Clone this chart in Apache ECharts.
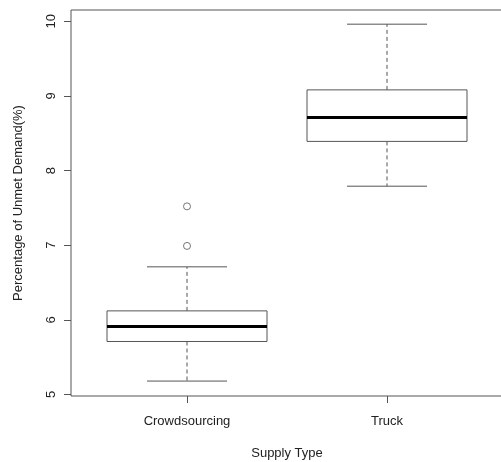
<!DOCTYPE html>
<html>
<head>
<meta charset="utf-8">
<script src="https://cdn.jsdelivr.net/npm/echarts@6/dist/echarts.min.js"></script>
<style>
  html, body { margin: 0; padding: 0; background: #fff; }
  #chart { width: 501px; height: 462px; }
</style>
</head>
<body>
<div id="chart"></div>
<script>
// boxplot of unmet demand by supply type
var categories = ['Crowdsourcing', 'Truck'];
var lowWhisker = [5.18, 7.79];
var q1 = [5.71, 8.39];
var median = [5.91, 8.71];
var q3 = [6.12, 9.08];
var highWhisker = [6.71, 9.96];
var outlierGroup = [1, 1];
var outlierValue = [6.99, 7.52];
var yTicks = [5, 6, 7, 8, 9, 10];

var lineColor = '#555';
var textColor = '#222';
var font = 'Liberation Sans, Arial, sans-serif';

var boxData = categories.map(function (c, i) {
    return [i + 1, lowWhisker[i], q1[i], median[i], q3[i], highWhisker[i]];
});
var outlierData = outlierValue.map(function (v, i) {
    return [outlierGroup[i], v];
});

function renderBox(params, api) {
    var x = api.value(0);
    var boxW = api.size([0.8, 0])[0];
    var capW = api.size([0.4, 0])[0];
    var pLow = api.coord([x, api.value(1)]);
    var pQ1 = api.coord([x, api.value(2)]);
    var pMed = api.coord([x, api.value(3)]);
    var pQ3 = api.coord([x, api.value(4)]);
    var pHigh = api.coord([x, api.value(5)]);
    var cx = pMed[0];
    var solid = { stroke: lineColor, lineWidth: 1, fill: null };
    var dashed = { stroke: lineColor, lineWidth: 1, lineDash: [4, 3], fill: null };
    return {
        type: 'group',
        children: [
            { type: 'line', shape: { x1: cx, y1: pQ3[1], x2: cx, y2: pHigh[1] }, style: dashed },
            { type: 'line', shape: { x1: cx, y1: pQ1[1], x2: cx, y2: pLow[1] }, style: dashed },
            { type: 'line', shape: { x1: cx - capW / 2, y1: pHigh[1], x2: cx + capW / 2, y2: pHigh[1] }, style: solid },
            { type: 'line', shape: { x1: cx - capW / 2, y1: pLow[1], x2: cx + capW / 2, y2: pLow[1] }, style: solid },
            { type: 'rect', shape: { x: cx - boxW / 2, y: pQ3[1], width: boxW, height: pQ1[1] - pQ3[1] },
              style: { stroke: lineColor, lineWidth: 1, fill: '#fff' } },
            { type: 'line', shape: { x1: cx - boxW / 2, y1: pMed[1], x2: cx + boxW / 2, y2: pMed[1] },
              style: { stroke: '#000', lineWidth: 3 } }
        ]
    };
}

var myChart = echarts.init(document.getElementById('chart'));
myChart.setOption({
    backgroundColor: '#fff',
    animation: false,
    grid: {
        left: 71,
        top: 10,
        width: 432,
        height: 386,
        outerBoundsMode: 'none',
        containLabel: false,
        show: true,
        borderColor: lineColor,
        borderWidth: 1,
        backgroundColor: 'transparent'
    },
    xAxis: {
        type: 'value',
        min: 0.42,
        max: 2.58,
        name: 'Supply Type',
        nameLocation: 'middle',
        nameGap: 51,
        nameTextStyle: { color: textColor, fontSize: 13, fontFamily: font },
        axisLine: { show: false },
        axisTick: { show: true, length: 7, customValues: [1, 2], lineStyle: { color: lineColor } },
        axisLabel: {
            customValues: [1, 2],
            margin: 19,
            color: textColor,
            fontSize: 13,
            fontFamily: font,
            formatter: function (v) { return categories[Math.round(v) - 1]; }
        },
        splitLine: { show: false }
    },
    yAxis: {
        type: 'value',
        min: 4.98,
        max: 10.15,
        name: 'Percentage of Unmet Demand(%)',
        nameLocation: 'middle',
        nameGap: 46,
        nameTextStyle: { color: textColor, fontSize: 13, fontFamily: font },
        axisLine: { show: false },
        axisTick: { show: true, length: 7, customValues: yTicks, lineStyle: { color: lineColor } },
        axisLabel: {
            customValues: yTicks,
            rotate: 90,
            margin: 13,
            color: textColor,
            fontSize: 13,
            fontFamily: font
        },
        splitLine: { show: false }
    },
    series: [
        {
            type: 'custom',
            renderItem: renderBox,
            encode: { x: 0, y: [1, 2, 3, 4, 5] },
            data: boxData
        },
        {
            type: 'scatter',
            symbol: 'circle',
            symbolSize: 7,
            itemStyle: { color: '#fff', borderColor: lineColor, borderWidth: 1 },
            data: outlierData
        }
    ]
});
</script>
</body>
</html>
